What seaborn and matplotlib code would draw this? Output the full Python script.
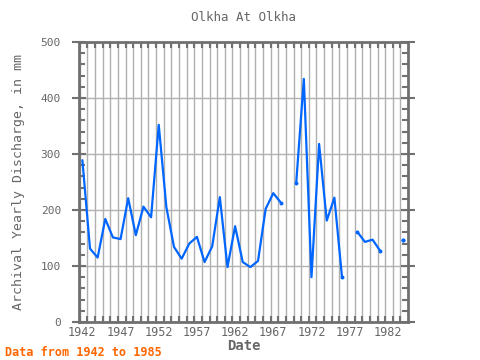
import matplotlib
matplotlib.use("Agg")
import matplotlib.pyplot as plt
import seaborn as sns
import numpy as np
import pandas as pd
from matplotlib.ticker import MultipleLocator, FixedLocator

years = list(range(1942, 1985))
discharge = [289, 131, 115, 184, 151, 148, 221, 155, 206, 187,
             352, 205, 134, 113, 140, 152, 107, 135, 223, 98,
             171, 107, 98, 109, 202, 230, 213, np.nan, 248, 434,
             80, 318, 181, 222, 80, np.nan, 161, 143, 147, 127,
             np.nan, np.nan, 146]
xtick_years = [1942, 1947, 1952, 1957, 1962, 1967, 1972, 1977, 1982]

df = pd.DataFrame({"year": years, "value": discharge})
# split into segments at the gaps
df["segment"] = df["value"].isna().cumsum()
df = df.dropna()
ends = pd.concat([df.groupby("segment").head(1), df.groupby("segment").tail(1)])
ends = ends[ends["year"] != years[0]]

sns.set_style("white")
plt.rcParams["font.family"] = ["DejaVu Sans Mono"]

grey = "#666666"
blue = "#0066ff"

fig = plt.figure(figsize=(4.8, 3.6), dpi=100)
ax = fig.add_axes([0.1646, 0.1056, 0.6854, 0.7778])

sns.lineplot(data=df, x="year", y="value", units="segment", estimator=None,
             color=blue, linewidth=1.6, ax=ax)
sns.scatterplot(data=ends, x="year", y="value", color=blue, s=8,
                edgecolor=blue, linewidth=0, ax=ax, zorder=3)

ax.set_xlim(1941.56, 1984.64)
ax.set_ylim(0, 500)

ax.xaxis.set_major_locator(FixedLocator(xtick_years))
ax.xaxis.set_minor_locator(FixedLocator([y + 0.65 for y in range(1941, 1985)]))
ax.yaxis.set_major_locator(MultipleLocator(100))
ax.yaxis.set_minor_locator(MultipleLocator(20))

ax.grid(which="minor", axis="x", color="#b0b0b0", linewidth=1)
ax.grid(which="major", axis="y", color="#b0b0b0", linewidth=1)
ax.set_axisbelow(True)

ax.tick_params(axis="x", which="major", length=0, labelsize=8.5,
               labelcolor=grey, pad=3)
ax.tick_params(axis="x", which="minor", direction="in", length=4, width=1.5,
               color="#707070", top=True, bottom=True)
ax.tick_params(axis="y", which="major", direction="inout", length=10, width=1.5,
               color="#707070", labelsize=8, labelcolor=grey,
               left=True, right=True, pad=8)
ax.tick_params(axis="y", which="minor", direction="in", length=4, width=1.5,
               color="#707070", left=True, right=True)

for sp in ax.spines.values():
    sp.set_color("#707070")
    sp.set_linewidth(2)

ax.set_xlabel("Date", fontsize=10, color=grey, fontweight="bold", labelpad=0)
ax.set_ylabel("Archival Yearly Discharge, in mm", fontsize=9.5, color=grey,
              labelpad=11)
ax.set_title("Olkha At Olkha", fontsize=9, color=grey, pad=15)

fig.text(0.01, 0.012, "Data from 1942 to 1985", fontsize=8.5, color="#ff6600",
         fontweight="bold")

fig.savefig("out.png", dpi=100)
